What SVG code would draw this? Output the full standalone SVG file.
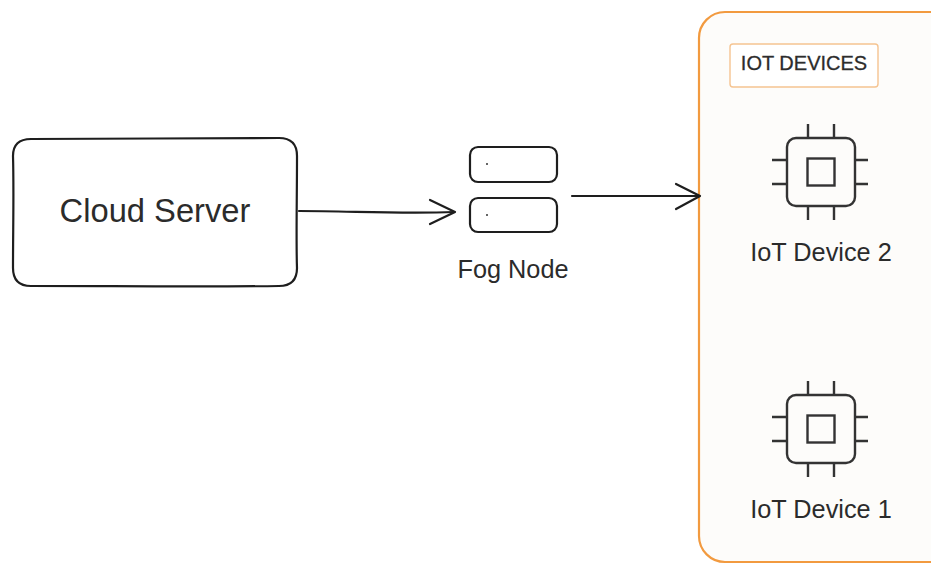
<svg xmlns="http://www.w3.org/2000/svg" width="931" height="565" viewBox="0 0 931 565">
<style>
  text { font-family: "Liberation Sans", Arial, sans-serif; fill: #2b2b2b; }
  .ink { fill: none; stroke: #1e1e1e; stroke-width: 2.2; stroke-linecap: round; stroke-linejoin: round; }
  .chip { fill: none; stroke: #333; stroke-width: 2.4; stroke-linecap: butt; }
  .lbl { font-size: 25.3px; text-anchor: middle; }
</style>
<defs>
  <g id="chipIcon">
    <rect x="-34" y="-34" width="68" height="68" rx="9" class="chip"/>
    <rect x="-13.5" y="-13.5" width="27" height="27" class="chip"/>
    <path class="chip" d="M-13,-34 V-48 M13,-34 V-48 M-13,34 V48 M13,34 V48 M-34,-12 H-49 M-34,12 H-49 M34,-12 H47 M34,12 H47"/>
  </g>
</defs>
<rect width="931" height="565" fill="#ffffff"/>

<g id="iot-devices-group">
  <rect x="699" y="12" width="262" height="550" rx="26" fill="#fdfcfa" stroke="#f29a3f" stroke-width="2.2"/>
  <rect x="730" y="44" width="148" height="43" rx="3" fill="#ffffff" stroke="#f5c491" stroke-width="1.4"/>
  <text x="804" y="70" font-size="20" text-anchor="middle" fill="#333" stroke="#333" stroke-width="0.3">IOT DEVICES</text>
</g>

<g id="cloud-server">
  <path class="ink" d="M31,139 C110,138 200,139 279,138 Q297,138 297,156 C297,200 296,240 297,268 Q297,286 279,286 C200,287 110,286 31,286 Q13,286 13,268 C13,230 14,190 13,156 Q13,139 31,139 Z"/>
  <text x="155" y="222" font-size="32.7" text-anchor="middle">Cloud Server</text>
</g>

<g id="fog-node">
  <rect x="470" y="147" width="87" height="35" rx="8" class="ink"/>
  <rect x="470" y="198" width="87" height="34" rx="8" class="ink"/>
  <circle cx="487" cy="164" r="1" fill="#333"/>
  <circle cx="487" cy="215" r="1" fill="#333"/>
  <text x="513" y="278" class="lbl" font-size="24.5">Fog Node</text>
</g>

<g id="iot-device-2">
  <use href="#chipIcon" x="821" y="172"/>
  <text x="821" y="261" class="lbl">IoT Device 2</text>
</g>

<g id="iot-device-1">
  <use href="#chipIcon" x="821" y="429"/>
  <text x="821" y="518" class="lbl">IoT Device 1</text>
</g>

<g id="connectors">
  <path class="ink" d="M299,211 C350,211 400,214 454,212"/>
  <path class="ink" d="M430,200 L455,212 L430,224"/>
  <path class="ink" d="M572,196 C610,196 660,196 699,196"/>
  <path class="ink" d="M676,184 L700,196 L676,209"/>
</g>
</svg>
